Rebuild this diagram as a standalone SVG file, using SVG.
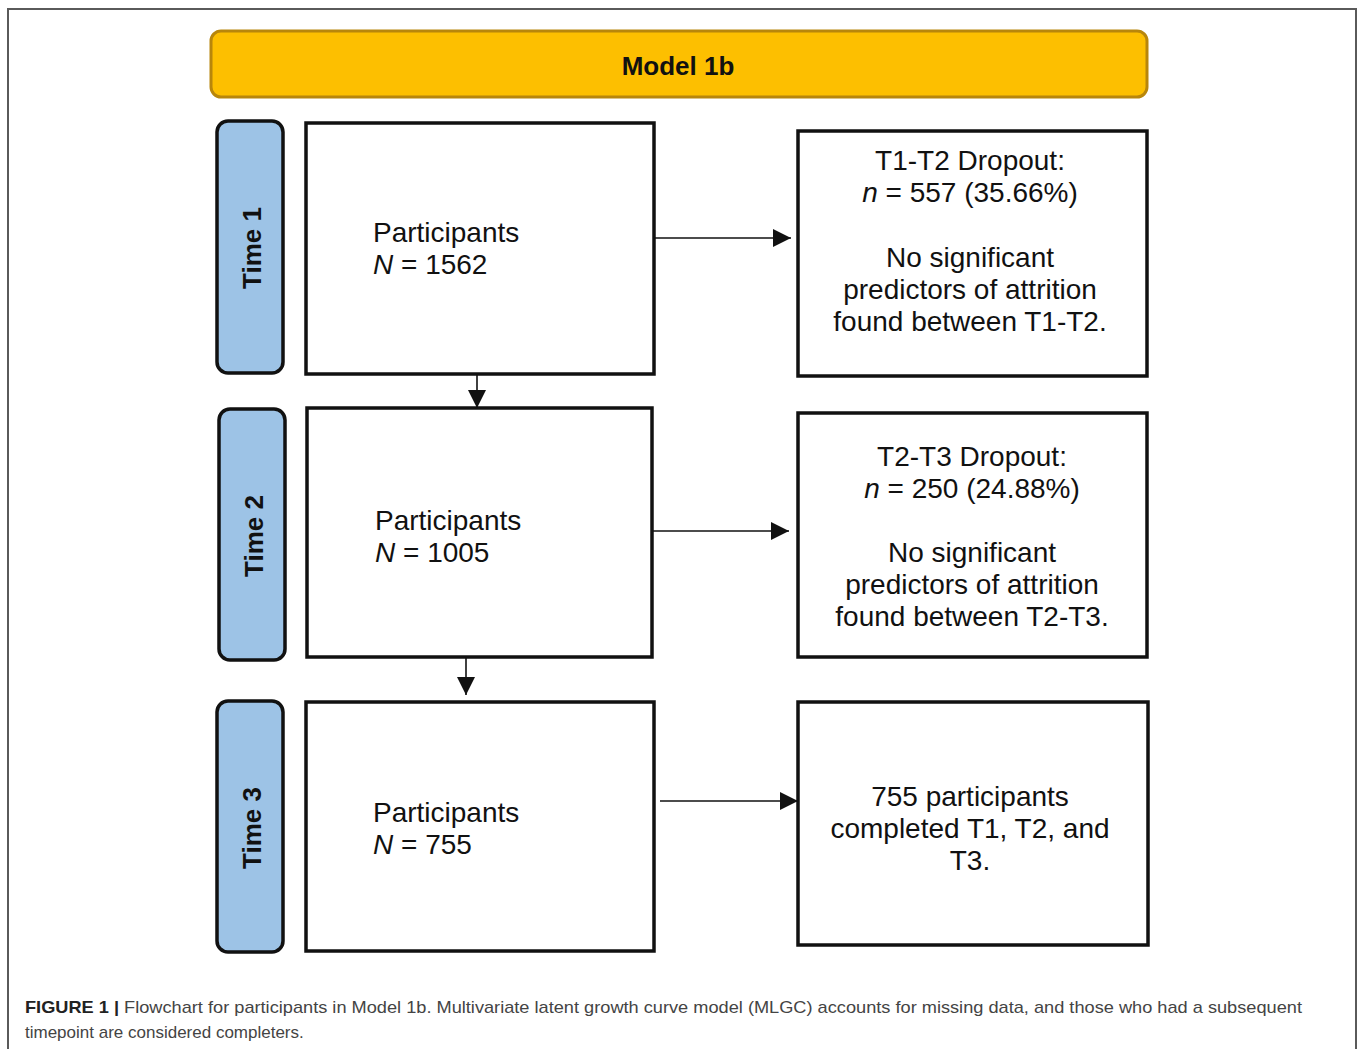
<svg xmlns="http://www.w3.org/2000/svg" width="1358" height="1049" viewBox="0 0 1358 1049">
<defs>
<style>
.frame{fill:none;stroke:#5a5a5a;stroke-width:2}
.hdr{fill:#FDBF00;stroke:#B8860B;stroke-width:3}
.pill{fill:#9DC3E6;stroke:#111;stroke-width:3.5}
.box{fill:#fff;stroke:#111;stroke-width:3.5}
.t{font-family:"Liberation Sans",Arial,sans-serif;font-size:28px;fill:#111}
.tb{font-family:"Liberation Sans",Arial,sans-serif;font-size:26px;font-weight:bold;fill:#111}
.c{text-anchor:middle}
.cap{font-family:"Liberation Sans",Arial,sans-serif;font-size:17px;fill:#444}
.conn line{stroke:#111;stroke-width:1.6}
</style>
<marker id="ah" viewBox="0 0 10 10" refX="10" refY="5" markerWidth="18" markerHeight="18" markerUnits="userSpaceOnUse" orient="auto">
<path d="M0,0 L10,5 L0,10 Z" fill="#111"/>
</marker>
</defs>
<rect width="1358" height="1049" fill="#fff"/>
<path class="frame" d="M8,1049 V9 H1356 V1049"/>

<g id="header">
<rect class="hdr" x="211" y="31" width="936" height="66" rx="10"/>
<text class="tb c" x="678" y="75">Model 1b</text>
</g>

<g id="time1">
<rect class="pill" x="217" y="121" width="66" height="252" rx="11"/>
<text class="tb c" transform="translate(261,248) rotate(-90)">Time 1</text>
</g>
<g id="time2">
<rect class="pill" x="219" y="409" width="66" height="251" rx="11"/>
<text class="tb c" transform="translate(263,536) rotate(-90)">Time 2</text>
</g>
<g id="time3">
<rect class="pill" x="217" y="701" width="66" height="251" rx="11"/>
<text class="tb c" transform="translate(261,828) rotate(-90)">Time 3</text>
</g>

<g id="p1">
<rect class="box" x="306" y="123" width="348" height="251"/>
<text class="t" x="373" y="242">Participants</text>
<text class="t" x="373" y="274"><tspan font-style="italic">N</tspan> = 1562</text>
</g>
<g id="p2">
<rect class="box" x="307" y="408" width="345" height="249"/>
<text class="t" x="375" y="530">Participants</text>
<text class="t" x="375" y="562"><tspan font-style="italic">N</tspan> = 1005</text>
</g>
<g id="p3">
<rect class="box" x="306" y="702" width="348" height="249"/>
<text class="t" x="373" y="822">Participants</text>
<text class="t" x="373" y="854"><tspan font-style="italic">N</tspan> = 755</text>
</g>

<g id="d1">
<rect class="box" x="798" y="131" width="349" height="245"/>
<text class="t c" x="970" y="170">T1-T2 Dropout:</text>
<text class="t c" x="970" y="202"><tspan font-style="italic">n</tspan> = 557 (35.66%)</text>
<text class="t c" x="970" y="267">No significant</text>
<text class="t c" x="970" y="299">predictors of attrition</text>
<text class="t c" x="970" y="331">found between T1-T2.</text>
</g>
<g id="d2">
<rect class="box" x="798" y="413" width="349" height="244"/>
<text class="t c" x="972" y="466">T2-T3 Dropout:</text>
<text class="t c" x="972" y="498"><tspan font-style="italic">n</tspan> = 250 (24.88%)</text>
<text class="t c" x="972" y="562">No significant</text>
<text class="t c" x="972" y="594">predictors of attrition</text>
<text class="t c" x="972" y="626">found between T2-T3.</text>
</g>
<g id="done">
<rect class="box" x="798" y="702" width="350" height="243"/>
<text class="t c" x="970" y="806">755 participants</text>
<text class="t c" x="970" y="838">completed T1, T2, and</text>
<text class="t c" x="970" y="870">T3.</text>
</g>

<g id="connectors" class="conn">
<line x1="655" y1="238" x2="791" y2="238" marker-end="url(#ah)"/>
<line x1="653" y1="531" x2="789" y2="531" marker-end="url(#ah)"/>
<line x1="660" y1="801" x2="798" y2="801" marker-end="url(#ah)"/>
<line x1="477" y1="374" x2="477" y2="408" marker-end="url(#ah)"/>
<line x1="466" y1="657" x2="466" y2="695" marker-end="url(#ah)"/>
</g>

<g id="caption">
<text class="cap" x="25" y="1013" textLength="1277" lengthAdjust="spacingAndGlyphs"><tspan font-weight="bold" fill="#222">FIGURE 1 |</tspan> Flowchart for participants in Model 1b. Multivariate latent growth curve model (MLGC) accounts for missing data, and those who had a subsequent</text>
<text class="cap" x="25" y="1038">timepoint are considered completers.</text>
</g>
</svg>
